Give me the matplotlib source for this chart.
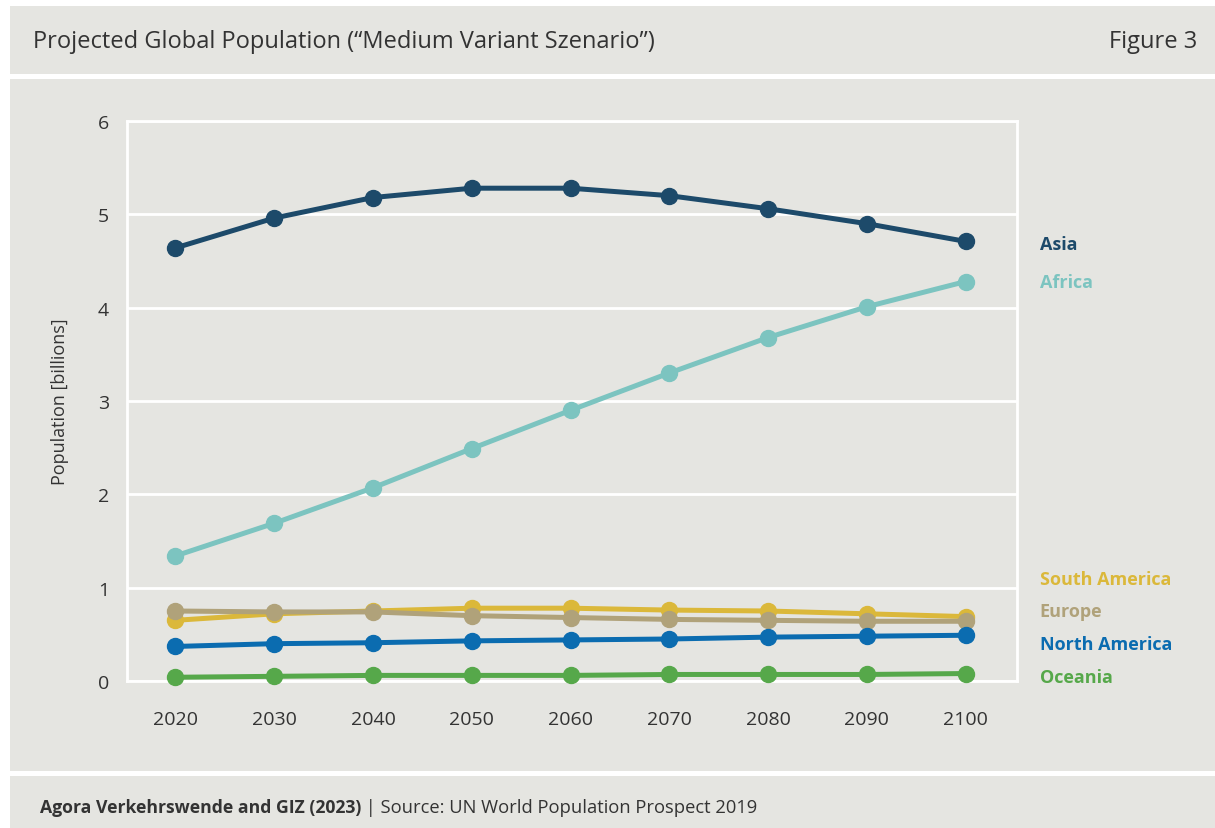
import matplotlib.pyplot as plt
from matplotlib.patches import Rectangle

# Datos (miles de millones)
years = [2020, 2030, 2040, 2050, 2060, 2070, 2080, 2090, 2100]
asia = [4.64, 4.96, 5.18, 5.28, 5.28, 5.20, 5.06, 4.90, 4.71]
africa = [1.34, 1.69, 2.07, 2.49, 2.90, 3.30, 3.68, 4.01, 4.28]
south_america = [0.65, 0.72, 0.75, 0.78, 0.78, 0.76, 0.75, 0.72, 0.69]
europe = [0.75, 0.74, 0.74, 0.70, 0.68, 0.66, 0.65, 0.64, 0.64]
north_america = [0.37, 0.40, 0.41, 0.43, 0.44, 0.45, 0.47, 0.48, 0.49]
oceania = [0.04, 0.05, 0.06, 0.06, 0.06, 0.07, 0.07, 0.07, 0.08]

series = [
    ("Asia", asia, "#1d4a6a"),
    ("Africa", africa, "#7cc4c0"),
    ("South America", south_america, "#dbb83a"),
    ("Europe", europe, "#b0a27a"),
    ("North America", north_america, "#0b6cb0"),
    ("Oceania", oceania, "#56a84a"),
]
label_y = {"Asia": 4.68, "Africa": 4.27, "South America": 1.09,
           "Europe": 0.75, "North America": 0.40, "Oceania": 0.04}

plt.rcParams['font.family'] = ['Liberation Sans Narrow', 'Open Sans', 'DejaVu Sans']

bg = "#e5e5e1"
txt = "#333333"

fig = plt.figure(figsize=(12.15, 8.29), dpi=100)
fig.patch.set_facecolor("white")

W, H = 1215, 829
def panel(y0, y1):
    fig.add_artist(Rectangle((10 / W, 1 - y1 / H), 1 - 10 / W, (y1 - y0) / H,
                             transform=fig.transFigure, facecolor=bg,
                             edgecolor="none", zorder=0))

panel(7, 75)
panel(80, 772)
panel(777, 829)

fig.text(33 / W, 1 - 42 / H, "Projected Global Population (\u201cMedium Variant Szenario\u201d)",
         fontsize=17, color=txt, va="center", ha="left")
fig.text(1197 / W, 1 - 42 / H, "Figure 3", fontsize=17, color=txt,
         va="center", ha="right")

ax = fig.add_axes([127 / W, 1 - 682 / H, (1017 - 127) / W, (682 - 122) / H])
ax.set_facecolor(bg)

for name, vals, col in series:
    ax.plot(years, vals, color=col, linewidth=3.6, marker="o", markersize=11.5,
            zorder=3, clip_on=False)
    ax.text(2107.5, label_y[name], name, color=col, fontsize=13,
            fontweight="bold", va="center", ha="left")

ax.set_xlim(2015.1, 2105.2)
ax.set_ylim(0, 6)
ax.set_xticks(years)
ax.set_yticks(range(0, 7))
ax.grid(axis="y", color="white", linewidth=2)
ax.set_axisbelow(True)
for s in ax.spines.values():
    s.set_color("white")
    s.set_linewidth(2)
ax.tick_params(length=0, labelsize=14, colors=txt)
ax.tick_params(axis="x", pad=21)
ax.tick_params(axis="y", pad=13)
ax.set_ylabel("Population [billions]", fontsize=13, color=txt, labelpad=21)

t1 = fig.text(40 / W, 1 - 808 / H, "Agora Verkehrswende and GIZ (2023)",
              fontsize=12.7, fontweight="bold", color=txt, va="center", ha="left")
ax.annotate(" | Source: UN World Population Prospect 2019", xy=(1, 0.5),
            xycoords=t1, va="center", ha="left", fontsize=13.2, color=txt,
            annotation_clip=False)

plt.savefig("out.png", dpi=100, facecolor=fig.get_facecolor())
